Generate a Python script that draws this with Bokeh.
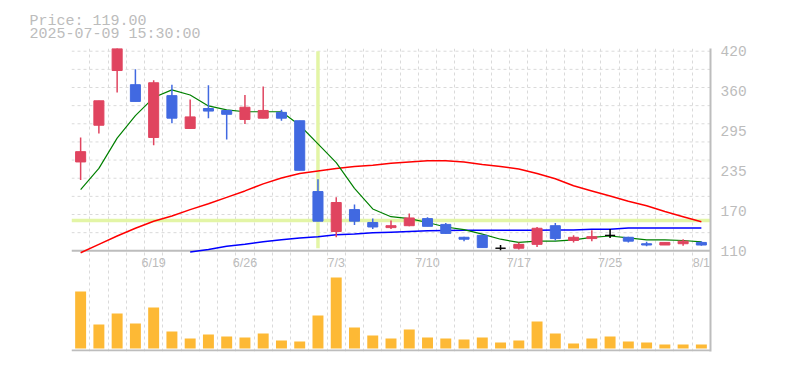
from bokeh.plotting import figure
from bokeh.models import Range1d, FixedTicker, Grid, Span, Title, ColumnDataSource
from bokeh.core.properties import value
from bokeh.embed import file_html
from bokeh.resources import INLINE

# ---------------- data ----------------
dates = ["6/13", "6/16", "6/17", "6/18", "6/19", "6/20", "6/23", "6/24", "6/25", "6/26",
         "6/27", "6/30", "7/1", "7/2", "7/3", "7/4", "7/7", "7/8", "7/9", "7/10",
         "7/11", "7/14", "7/15", "7/16", "7/17", "7/18", "7/22", "7/23", "7/24", "7/25",
         "7/28", "7/29", "7/30", "7/31", "8/1"]
opens = [248, 305, 390, 368, 286, 351, 300, 331, 328, 314, 316, 325, 312, 202, 140, 174, 154, 146,
         149, 160, 151, 131, 134, 114, 114, 120, 149, 126, 129, 134, 131, 121, 119, 121, 123]
highs = [286, 343, 440, 392, 375, 368, 345, 367, 328, 352, 365, 329, 312, 221, 193, 182, 160, 157,
         168, 162, 153, 132, 135, 119, 123, 147, 153, 134, 142, 144, 132, 124, 123, 128, 125]
lows = [220, 292, 356, 342, 274, 308, 300, 316, 283, 307, 316, 312, 235, 156, 131, 150, 144, 144,
        148, 148, 136, 125, 115, 111, 112, 116, 126, 123, 125, 130, 123, 117, 119, 118, 118]
closes = [264, 343, 430, 342, 371, 316, 318, 327, 322, 333, 328, 316, 235, 156, 185, 156, 147, 149,
          161, 148, 137, 128, 115, 114, 120, 145, 129, 131, 132, 134, 125, 119, 123, 125, 119]
ma5 = [205, 238, 285, 320, 348, 360, 352, 335, 329, 326, 326, 326, 305, 276, 247, 207, 175, 163,
       160, 154, 147, 143, 136, 128, 123, 125, 125, 127, 131, 133, 130, 127, 127, 126, 124]
ma25 = [107, 120, 133, 145, 156, 164, 174, 183, 193, 203, 214, 223, 230, 234, 238, 241, 243, 246,
        248, 250, 250, 248, 244, 241, 237, 230, 222, 211, 203, 195, 187, 180, 171, 163, 155]
ma75 = [None, None, None, None, None, None, 108, 112, 117, 120, 124, 127, 130, 132, 135, 136, 138,
        139, 140, 141, 141.5, 142, 142, 142, 142, 142, 142.5, 142.5, 143.5, 143.5, 145.5, 145.5,
        145.5, 145.5, 145.5]
volumes = [2280, 960, 1400, 1000, 1640, 680, 400, 560, 480, 440, 600, 320, 280, 1320, 2840, 840,
           520, 400, 760, 440, 400, 360, 440, 240, 320, 1080, 600, 200, 400, 480, 280, 240, 160,
           160, 160]
label_dates = ["6/19", "6/26", "7/3", "7/10", "7/17", "7/25", "8/1"]
price_ticks = [110, 172, 234, 296, 358, 420]
price_tick_labels = ["110", "170", "235", "295", "360", "420"]
crosshair_date = "7/2"
crosshair_price = 157
info_price = "Price: 119.00"
info_time = "2025-07-09 15:30:00"

# ---------------- styles ----------------
UP = "#e0445f"
DOWN = "#4169e1"
EVEN = "#000000"
VOL = "#fdb935"
GRID = "#dadada"
AXIS = "#bdbdbd"
TXT = "#bcbcbc"
CROSS = "#e3f5a6"

n = len(dates)
xs = list(range(n))

# price scale: 110..420 spans 199.6 px; frame is 303 px tall, top at 424.2
p_per_px = 310 / 199.6
y_end = 424.2
y_start = y_end - 303 * p_per_px
# volume scale: 40 units per px, base 3 px above frame bottom
v_start = -3 * 40
v_end = 300 * 40

p = figure(width=778, height=360, output_backend="svg", toolbar_location=None,
           x_range=Range1d(-0.5, n - 0.5), y_range=Range1d(y_start, y_end),
           x_axis_location=None, y_axis_location="right",
           min_border_left=71, min_border_right=68, min_border_top=48, min_border_bottom=9,
           background_fill_color="white", border_fill_color="white", outline_line_color=None)
p.extra_y_ranges = {"vol": Range1d(v_start, v_end)}

for g in p.grid:
    g.visible = False

# vertical dashed grid between candles
p.add_layout(Grid(dimension=0, ticker=FixedTicker(ticks=[i - 0.5 for i in range(n + 1)]),
                  grid_line_color=GRID, grid_line_dash="3 3", grid_line_width=1))
# horizontal dashed grid in the price pane
for k in range(1, 12):
    p.add_layout(Span(location=110 + k * 310 / 11, dimension="width", line_color=GRID,
                      line_dash="3 3", line_width=1, level="underlay"))
# crosshair
p.add_layout(Span(location=crosshair_price, dimension="width", line_color=CROSS,
                  line_width=3.5, level="underlay"))
# pane bottom lines
p.add_layout(Span(location=110, dimension="width", line_color=AXIS, line_width=2, level="underlay"))
p.add_layout(Span(location=-80, dimension="width", line_color=AXIS, line_width=2,
                  y_range_name="vol", level="underlay"))

ci = dates.index(crosshair_date)
p.segment(x0=[ci], y0=[114], x1=[ci], y1=[420], line_color=CROSS, line_width=3.5)

# moving averages
p.line(xs, [float("nan") if v is None else v for v in ma75], line_color="#0000ff", line_width=1.5)
p.line(xs, ma25, line_color="#ff0000", line_width=1.5)
p.line(xs, ma5, line_color="#008000", line_width=1.2)

# candles
colors = [UP if c > o else (DOWN if c < o else EVEN) for o, c in zip(opens, closes)]
src = ColumnDataSource(dict(x=xs, o=opens, h=highs, l=lows, c=closes,
                            top=[max(o, c) for o, c in zip(opens, closes)],
                            bot=[min(o, c) for o, c in zip(opens, closes)],
                            color=colors, vol=volumes))
p.segment(x0="x", y0="h", x1="x", y1="l", line_color="color", line_width=1.5, source=src)
p.vbar(x="x", width=0.55, top="top", bottom="bot", fill_color="color", line_color="color",
       line_width=1, source=src)

# volume
p.vbar(x="x", width=0.6, top="vol", bottom=0, fill_color=VOL, line_color=None,
       y_range_name="vol", source=src)

# date labels between the panes
lab_x = [dates.index(d) for d in label_dates]
p.text(x=lab_x, y=[86 * 40] * len(lab_x), text=label_dates, y_range_name="vol",
       text_font=value("Liberation Sans"), text_font_size="12.5px", text_color=TXT,
       text_align="center", text_baseline="middle")

# right price axis
ax = p.yaxis[0]
ax.ticker = FixedTicker(ticks=price_ticks)
ax.major_label_overrides = {t: s for t, s in zip(price_ticks, price_tick_labels)}
ax.axis_line_color = AXIS
ax.axis_line_width = 2
ax.major_tick_line_color = None
ax.minor_tick_line_color = None
ax.major_tick_out = 0
ax.major_label_standoff = 10
ax.major_label_text_font = "Liberation Mono"
ax.major_label_text_font_size = "14.5px"
ax.major_label_text_color = TXT

# info text top-left (two-line title)
p.add_layout(Title(text=info_price + "\n" + info_time, align="left", offset=-42, standoff=10.5,
                   text_font="Liberation Mono", text_font_size="15px", text_line_height=0.8,
                   text_font_style="normal", text_color=TXT), "above")

open("out.html", "w").write(file_html(p, INLINE))
